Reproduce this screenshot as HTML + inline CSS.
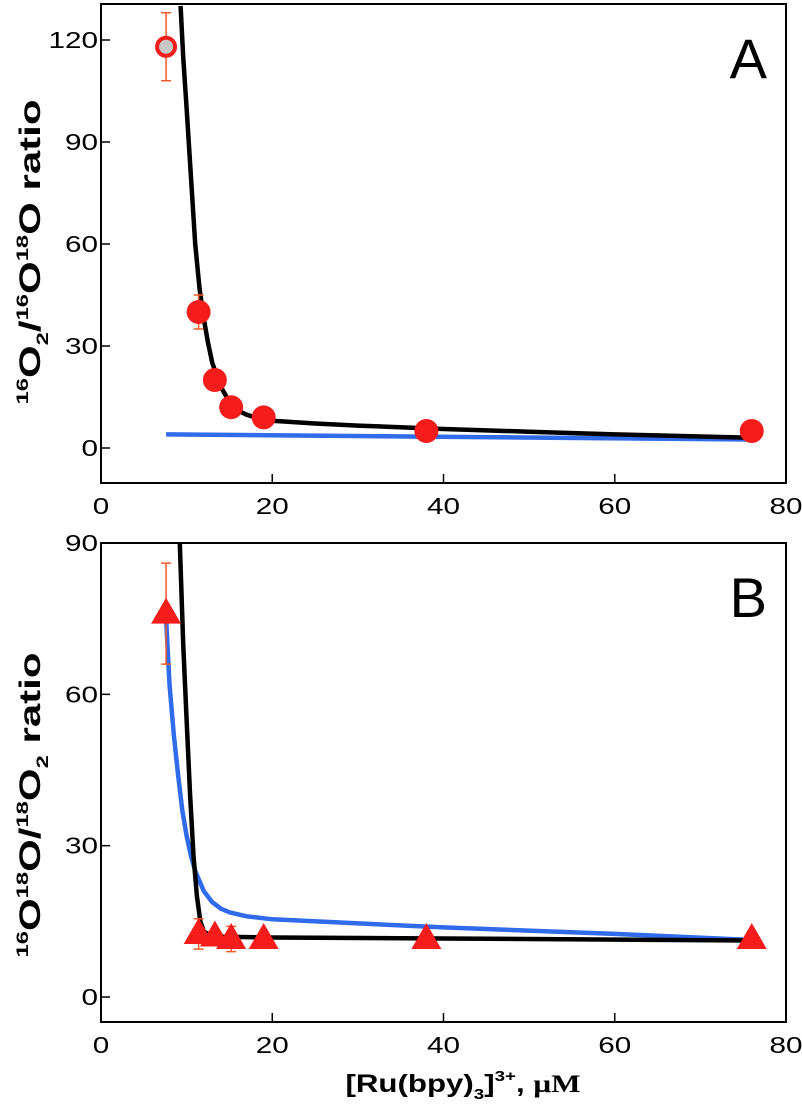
<!DOCTYPE html>
<html><head><meta charset="utf-8"><style>
body{margin:0;background:#fff;}
svg text{font-family:"Liberation Sans",Arial,sans-serif;}
</style></head><body>
<svg id="c" width="802" height="1114" viewBox="0 0 802 1114" xmlns="http://www.w3.org/2000/svg"></svg>
<script>
const xTicks=[0,20,40,60,80];
const aYTicks=[0,30,60,90,120];
const bYTicks=[0,30,60,90];
const xData=[7.6,11.4,13.3,15.2,19,38,76];
const aValues=[118,40,20,12,9,5,5];
const aErr=[10,5,0,0,0,0,0];
const bValues=[76,12.5,12,11.5,11.5,11.5,11.5];
const bErr=[10,3,0,2.5,0,0,0];
const aBlackX=[9.3,9.6,10,10.5,11,11.5,12,12.5,13,14,15,16,17,18,20,25,30,40,50,60,76];
const aBlackY=[130,115,100,80,60,47,38,31,25,18,13.5,11,9.8,9,8,7.2,6.6,5.6,4.8,4,3];
const aBlueX=[7.6,76];
const aBlueY=[4,2.5];
const bBlackX=[9.2,9.6,10,10.4,10.8,11.2,11.6,12,13,20,40,76];
const bBlackY=[90,70,55,40,28,20,15,13,12,11.8,11.6,11.2];
const bBlueX=[7.6,8,8.5,9,9.5,10,10.5,11,12,13,14,15,17,20,40,60,76];
const bBlueY=[75,62,52,44,37,32,28,25,21,18.8,17.5,16.8,16,15.4,13.8,12.5,11.3];

const svg=document.getElementById('c');
const NS='http://www.w3.org/2000/svg';
function mk(tag,attrs,parent){const e=document.createElementNS(NS,tag);for(const k in attrs)e.setAttribute(k,attrs[k]);(parent||svg).appendChild(e);return e;}
const L=101,R=786;
const sx=v=>L+v*(R-L)/80;

function panel(cfg){
  const g=mk('g',{});
  
  
  const sy=v=>cfg.y0+(cfg.yTop-cfg.y0)*v/cfg.vTop;
  const frame=mk('rect',{x:L,y:cfg.top,width:R-L,height:cfg.bottom-cfg.top,fill:'none',stroke:'#000','stroke-width':2},g);
  
  
  xTicks.forEach(t=>{
    const x=sx(t);
    if(t>0&&t<80){mk('line',{x1:x,x2:x,y1:cfg.bottom,y2:cfg.bottom-9,stroke:'#000','stroke-width':1.5},g);}
    const s=String(t);
    const tx=mk('text',{x:x,y:cfg.bottom+31,'font-size':23,'text-anchor':'middle',textLength:s.length*16.5,lengthAdjust:'spacingAndGlyphs'},g);
    tx.textContent=s;
    
    
  });
  cfg.yTicks.forEach(t=>{
    const y=sy(t);
    mk('line',{x1:L,x2:L+9,y1:y,y2:y,stroke:'#000','stroke-width':1.5},g);
    const s=String(t);
    const tx=mk('text',{x:L-3,y:y+8,'font-size':23,'text-anchor':'end',textLength:s.length*16.5,lengthAdjust:'spacingAndGlyphs'},g);
    tx.textContent=s;
    
    
  });
  const clipId='clip'+cfg.name;
  const cp=mk('clipPath',{id:clipId},g);
  mk('rect',{x:L,y:cfg.top,width:R-L,height:cfg.bottom-cfg.top},cp);
  function line(xs,ys,col,name){
    const d=xs.map((x,i)=>(i?'L':'M')+sx(x).toFixed(1)+','+sy(ys[i]).toFixed(1)).join(' ');
    const p=mk('path',{d:d,fill:'none',stroke:col,'stroke-width':4.5,'stroke-linejoin':'round','clip-path':'url(#'+clipId+')'},g);
    
    
  }
  line(cfg.bluex,cfg.bluey,'#2f6bea','blue-fit-curve');
  line(cfg.blackx,cfg.blacky,'#000','black-fit-curve');
  xData.forEach((xv,i)=>{
    const v=cfg.vals[i],e=cfg.err[i],x=sx(xv);
    if(e>0){
      const y1=sy(v+e),y2=sy(v-e);
      const eb=mk('path',{d:`M${x},${y1}V${y2}M${x-5},${y1}H${x+5}M${x-5},${y2}H${x+5}`,stroke:'#f05a28','stroke-width':1.5,fill:'none'},g);
      
      
    }
    let m;
    const y=sy(v);
    if(cfg.tri){
      m=mk('polygon',{points:`${x},${y-16} ${x-15},${y+10} ${x+15},${y+10}`,fill:'#f51c1c'},g);
    }else if(i===0){
      m=mk('circle',{cx:x,cy:y,r:9,fill:'#c8c8c8',stroke:'#f51c1c','stroke-width':4},g);
    }else{
      m=mk('circle',{cx:x,cy:y,r:12,fill:'#f51c1c'},g);
    }
    
    
  });
  const lab=mk('text',{x:767,y:cfg.top+74,'font-size':56,'text-anchor':'end'},g);
  lab.textContent=cfg.letter;
  
  
}
panel({name:'panel-a',top:4,bottom:483,y0:448,yTop:40,vTop:120,yTicks:aYTicks,vals:aValues,err:aErr,
  blackx:aBlackX,blacky:aBlackY,bluex:aBlueX,bluey:aBlueY,tri:false,letter:'A'});
panel({name:'panel-b',top:543,bottom:1022,y0:997,yTop:543,vTop:90,yTicks:bYTicks,vals:bValues,err:bErr,
  blackx:bBlackX,blacky:bBlackY,bluex:bBlueX,bluey:bBlueY,tri:true,letter:'B'});
</script>
<svg width="802" height="1114" style="position:absolute;left:0;top:0" xmlns="http://www.w3.org/2000/svg">
<g transform="translate(40,252) rotate(-90) scale(1.4,1)">
<text x="0" y="0" text-anchor="middle" font-size="30" font-weight="bold" font-family="Liberation Sans,sans-serif"><tspan font-size="17" dy="-12">16</tspan><tspan dy="12">O</tspan><tspan font-size="17" dy="8">2</tspan><tspan dy="-8">/</tspan><tspan font-size="17" dy="-12">16</tspan><tspan dy="12">O</tspan><tspan font-size="17" dy="-12">18</tspan><tspan dy="12">O ratio</tspan></text>
</g>
<g transform="translate(40,805) rotate(-90) scale(1.4,1)">
<text x="0" y="0" text-anchor="middle" font-size="30" font-weight="bold" font-family="Liberation Sans,sans-serif"><tspan font-size="17" dy="-12">16</tspan><tspan dy="12">O</tspan><tspan font-size="17" dy="-12">18</tspan><tspan dy="12">O/</tspan><tspan font-size="17" dy="-12">18</tspan><tspan dy="12">O</tspan><tspan font-size="17" dy="8">2</tspan><tspan dy="-8"> ratio</tspan></text>
</g>
<g transform="translate(463,1092) scale(1.25,1)">
<text x="0" y="0" text-anchor="middle" font-size="25" font-weight="bold" font-family="Liberation Sans,sans-serif">[Ru(bpy)<tspan font-size="15" dy="7">3</tspan><tspan dy="-7">]</tspan><tspan font-size="15" dy="-11">3+</tspan><tspan dy="11">, </tspan><tspan font-family="Liberation Serif,serif">μM</tspan></text>
</g>
</svg>
</body></html>
